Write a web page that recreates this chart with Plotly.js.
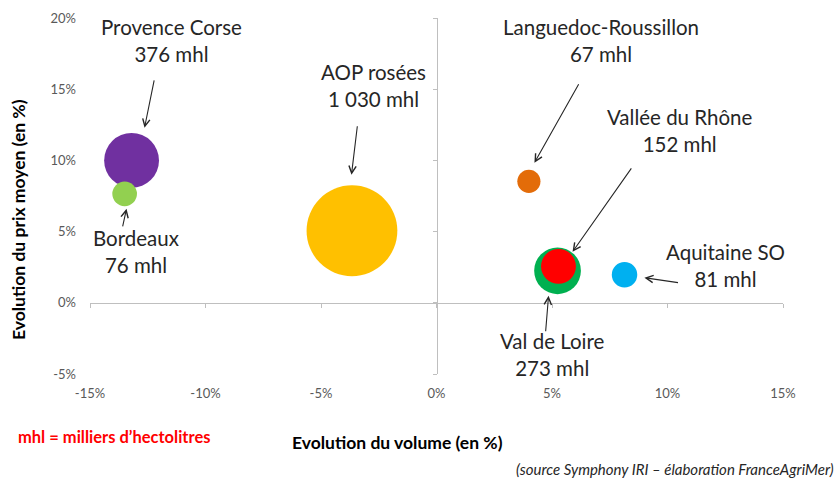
<!DOCTYPE html>
<html>
<head>
<meta charset="utf-8">
<script src="https://cdn.plot.ly/plotly-3.0.1.min.js"></script>
<style>
  html, body { margin: 0; padding: 0; background: #fff; }
  #myPlot { width: 840px; height: 481px; }
</style>
</head>
<body>
<div id="myPlot"></div>
<script>
// Data
const regions = ["Provence Corse", "Bordeaux", "AOP rosées", "Languedoc-Roussillon", "Val de Loire", "Vallée du Rhône", "Aquitaine SO"];
const volumeLabels = ["376 mhl", "76 mhl", "1 030 mhl", "67 mhl", "273 mhl", "152 mhl", "81 mhl"];
const volumes = [376, 76, 1030, 67, 273, 152, 81];          // mhl
const volumeChange = [-13.2, -13.5, -3.66, 4.0, 5.24, 5.28, 8.14]; // %
const priceChange = [10.0, 7.65, 5.06, 8.53, 2.25, 2.56, 1.97];   // %
const colors = ["#7030A0", "#92D050", "#FFC000", "#E36C09", "#00B050", "#FF0000", "#00B0F0"];

const xTicks = [-15, -10, -5, 0, 5, 10, 15];
const yTicks = [-5, 0, 5, 10, 15, 20];

const axisGrey = "#BFBFBF";
const textColor = "#262626";
const font = "Lato, 'Open Sans', sans-serif";

// Define Data
const data = [{
  x: volumeChange,
  y: priceChange,
  text: regions,
  mode: "markers",
  marker: {
    size: volumes,
    sizemode: "area",
    sizeref: 0.25,
    color: colors,
    opacity: 1,
    line: { width: 0 }
  },
  hoverinfo: "none",
  showlegend: false
}, {
  // invisible copies so the zero-crossing axes get drawn
  x: volumeChange, y: priceChange, xaxis: "x2", yaxis: "y",
  mode: "markers", marker: { opacity: 0 }, hoverinfo: "none", showlegend: false
}, {
  x: volumeChange, y: priceChange, xaxis: "x", yaxis: "y2",
  mode: "markers", marker: { opacity: 0 }, hoverinfo: "none", showlegend: false
}];

// label placement (data coords): text centre, arrow tail, arrow head
const labelPos = [
  { tx: -11.47, ty: 18.4, ax: -12.21, ay: 15.73, hx: -12.64, hy: 12.29 },
  { tx: -12.99, ty: 3.58, ax: -13.6, ay: 5.27, hx: -13.42, hy: 6.6 },
  { tx: -2.73, ty: 15.24, ax: -3.42, ay: 12.5, hx: -3.68, hy: 8.99 },
  { tx: 7.1, ty: 18.4, ax: 6.19, ay: 15.45, hx: 4.24, hy: 9.83 },
  { tx: 5.02, ty: -3.65, ax: 4.72, ay: -2.1, hx: 4.85, hy: 0.49 },
  { tx: 10.52, ty: 12.08, ax: 8.48, ay: 9.55, hx: 5.89, hy: 3.58 },
  { tx: 12.53, ty: 2.6, ax: 10.52, ay: 1.40, hx: 9.0, hy: 1.76 }
];

const annotations = [];
regions.forEach(function (r, i) {
  const p = labelPos[i];
  annotations.push({
    x: p.tx, y: p.ty, xref: "x", yref: "y",
    text: r + "<br>" + volumeLabels[i],
    showarrow: false,
    font: { family: font, size: 20.5, color: textColor }
  });
  annotations.push({
    x: p.hx, y: p.hy, xref: "x", yref: "y",
    ax: p.ax, ay: p.ay, axref: "x", ayref: "y",
    text: "", showarrow: true,
    arrowhead: 5, arrowsize: 1.3, arrowwidth: 1.1, arrowcolor: textColor,
    standoff: 0, startstandoff: 0
  });
});

// axis titles and notes, placed in pixels then converted to paper coords
const W = 840, H = 481, mL = 90, mR = 57, mT = 18, mB = 107;
function note(px, py, text, extra) {
  const a = {
    xref: "paper", yref: "paper",
    x: (px - mL) / (W - mL - mR),
    y: 1 - (py - mT) / (H - mT - mB),
    xanchor: "center", yanchor: "middle",
    text: text, showarrow: false
  };
  return Object.assign(a, extra);
}
annotations.push(note(18, 220, "<b>Evolution du prix moyen (en %)</b>",
  { textangle: -90, font: { family: font, size: 17.5, color: "#000" } }));
annotations.push(note(397, 442, "<b>Evolution du volume (en %)</b>",
  { font: { family: font, size: 17.5, color: "#000" } }));
annotations.push(note(114, 437, "<b>mhl = milliers d’hectolitres</b>",
  { font: { family: font, size: 16.5, color: "#FF0000" } }));
annotations.push(note(836, 469, "<i>(source Symphony IRI – élaboration FranceAgriMer)</i>",
  { xanchor: "right", font: { family: font, size: 15, color: textColor } }));

// Define Layout
const layout = {
  width: W,
  height: H,
  margin: { l: mL, r: mR, t: mT, b: mB, pad: 0 },
  paper_bgcolor: "#fff",
  plot_bgcolor: "#fff",
  font: { family: font, color: "#595959" },
  xaxis: {
    range: [-15, 15],
    tickvals: xTicks,
    ticktext: xTicks.map(v => v + "%"),
    showgrid: false, zeroline: false, showline: false, ticks: "",
    ticklabelstandoff: 10,
    tickfont: { family: font, size: 13, color: "#595959" },
    fixedrange: true
  },
  yaxis: {
    range: [-5, 20],
    tickvals: yTicks,
    ticktext: yTicks.map(v => v + "%"),
    showgrid: false, zeroline: false, showline: false, ticks: "",
    ticklabelstandoff: 13,
    tickfont: { family: font, size: 13, color: "#595959" },
    fixedrange: true
  },
  // axes crossing at zero
  xaxis2: {
    overlaying: "x", anchor: "free", position: 0.2, side: "bottom",
    range: [-15, 15], tickvals: xTicks, showticklabels: false,
    showline: true, linecolor: axisGrey, linewidth: 1,
    ticks: "outside", ticklen: 4, tickcolor: axisGrey,
    showgrid: false, zeroline: false, fixedrange: true
  },
  yaxis2: {
    overlaying: "y", anchor: "free", position: 0.5, side: "left",
    range: [-5, 20], tickvals: yTicks, showticklabels: false,
    showline: true, linecolor: axisGrey, linewidth: 1,
    ticks: "outside", ticklen: 4, tickcolor: axisGrey,
    showgrid: false, zeroline: false, fixedrange: true
  },
  annotations: annotations,
  hovermode: false
};

Plotly.newPlot("myPlot", data, layout, { displayModeBar: false, staticPlot: true });
</script>
</body>
</html>
